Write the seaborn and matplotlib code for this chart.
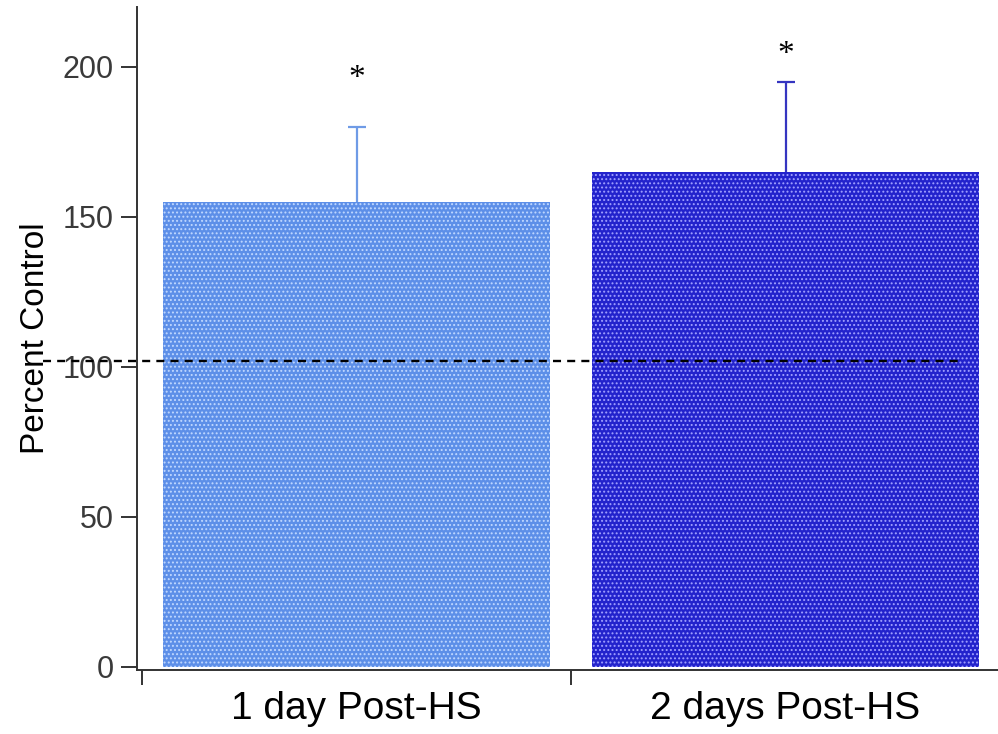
import numpy as np
import pandas as pd
import seaborn as sns
import matplotlib.pyplot as plt

# values
groups = ['1 day Post-HS', '2 days Post-HS']
percent_control = [155, 165]
sem = [25, 30]
star_y = [196, 204]
control_level = 102

bar_colors = ['#5d8fe8', '#2323cc']
dot_colors = ['#c0d8ff', '#a0a0ff']
err_colors = ['#6f9be6', '#3535c0']
y_ticks = [0, 50, 100, 150, 200]

sns.set_style('ticks')
plt.rcParams['font.family'] = ['Liberation Sans', 'DejaVu Sans']
plt.rcParams['hatch.linewidth'] = 0.9

df = pd.DataFrame({'group': groups, 'value': percent_control})

fig = plt.figure(figsize=(9.98, 7.34), dpi=100)
ax = fig.add_axes([0.1373, 0.0872, 0.8627, 0.9033])

sns.barplot(data=df, x='group', y='value', hue='group', palette=bar_colors,
            width=0.904, errorbar=None, legend=False, ax=ax, saturation=1)

# dotted texture on the bars
for patch, dc in zip(ax.patches, dot_colors):
    patch.set_hatch('....')
    patch.set_edgecolor(dc)
    patch.set_linewidth(0)

# upper error bars only
for i in range(len(groups)):
    eb = ax.errorbar(i, percent_control[i], yerr=[[0], [sem[i]]], fmt='none',
                     ecolor=err_colors[i], elinewidth=1.6, capsize=6.5, capthick=1.6)
    eb[1][0].set_visible(False)  # no cap on the bar top
    ax.text(i, star_y[i], '*', ha='center', va='center', fontsize=24,
            family='Liberation Serif', color='black')

# dashed control line, runs over the tick labels
ax.plot([-0.731, 1.407], [control_level, control_level], color='black',
        lw=1.7, ls=(0, (3.4, 2.6)), clip_on=False, zorder=5)

ax.set_xlim(-0.5117, 1.4953)
ax.set_ylim(-1, 220)

# tick marks sit between groups, labels under the bar centres
ax.set_xticks([-0.5, 0.5])
ax.set_xticklabels([])
ax.set_xticks([0, 1], minor=True)
ax.set_xticklabels(groups, minor=True, fontsize=28, color='black')
ax.tick_params(axis='x', which='major', length=11, width=1.4, color='#333333')
ax.tick_params(axis='x', which='minor', length=0, pad=15)

ax.set_yticks(y_ticks)
ax.set_yticklabels([str(t) for t in y_ticks], fontsize=22, color='#3a3a3a')
ax.tick_params(axis='y', length=11.5, width=1.4, color='#333333', pad=5.5)

ax.set_xlabel('')
ax.set_ylabel('Percent Control', fontsize=24, color='black', labelpad=8)

for side in ['top', 'right']:
    ax.spines[side].set_visible(False)
for side in ['left', 'bottom']:
    ax.spines[side].set_linewidth(1.4)
    ax.spines[side].set_color('#333333')

fig.savefig('out.png', dpi=100)
